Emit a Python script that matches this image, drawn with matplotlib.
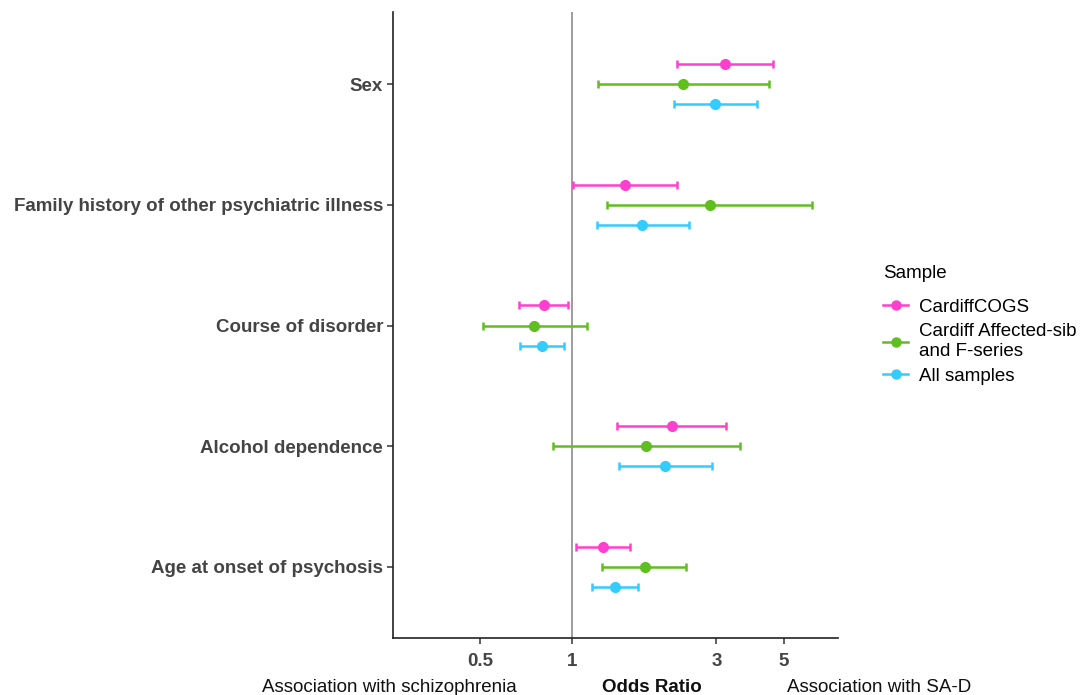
import numpy as np
import matplotlib
matplotlib.use("Agg")
import matplotlib.pyplot as plt
from matplotlib.lines import Line2D
from matplotlib.ticker import FixedLocator, NullLocator

plt.rcParams["font.family"] = ["Liberation Sans", "DejaVu Sans"]

# categories, bottom to top
categories = ["Age at onset of psychosis", "Alcohol dependence", "Course of disorder",
              "Family history of other psychiatric illness", "Sex"]
samples = ["CardiffCOGS", "Cardiff Affected-sib\nand F-series", "All samples"]
colors = ["#ff40cf", "#5fbf1f", "#33ccff"]

# odds ratio, lower CI, upper CI per sample (same category order)
or_cogs = [1.27, 2.14, 0.81, 1.50, 3.21]
lo_cogs = [1.03, 1.41, 0.67, 1.01, 2.23]
hi_cogs = [1.56, 3.22, 0.975, 2.23, 4.62]

or_sib = [1.74, 1.76, 0.75, 2.85, 2.33]
lo_sib = [1.26, 0.87, 0.51, 1.31, 1.22]
hi_sib = [2.38, 3.58, 1.12, 6.18, 4.47]

or_all = [1.39, 2.03, 0.80, 1.71, 2.98]
lo_all = [1.17, 1.43, 0.675, 1.21, 2.17]
hi_all = [1.65, 2.90, 0.94, 2.43, 4.08]

series = [(or_cogs, lo_cogs, hi_cogs), (or_sib, lo_sib, hi_sib), (or_all, lo_all, hi_all)]
offsets = [0.167, 0.0, -0.167]

fig = plt.figure(figsize=(10.91, 6.95), dpi=100)
ax = fig.add_axes([0.360, 0.082, 0.408, 0.901])

ax.axvline(1, color="#8c8c8c", linewidth=1.2, zorder=1)

ypos = np.arange(1, len(categories) + 1)
for (o, lo, hi), off, col in zip(series, offsets, colors):
    o = np.array(o); lo = np.array(lo); hi = np.array(hi)
    ax.errorbar(o, ypos + off, xerr=[o - lo, hi - o], fmt="o", color=col,
                ecolor=col, elinewidth=1.8, capsize=2.8, capthick=1.8,
                markersize=7, zorder=3)

ax.set_xscale("log")
ax.set_xlim(0.257, 7.55)
ax.set_ylim(0.41, 5.6)
ax.xaxis.set_major_locator(FixedLocator([0.5, 1, 3, 5]))
ax.xaxis.set_minor_locator(NullLocator())
ax.set_xticklabels(["0.5", "1", "3", "5"], fontsize=13.5, fontweight="bold", color="#444444")
ax.set_yticks(ypos)
ax.set_yticklabels(categories, fontsize=13.5, fontweight="bold", color="#444444")

for s in ["top", "right"]:
    ax.spines[s].set_visible(False)
for s in ["left", "bottom"]:
    ax.spines[s].set_linewidth(1.2)
    ax.spines[s].set_color("#222222")
ax.tick_params(axis="both", length=4, width=1.1, color="#333333", pad=3)
ax.tick_params(axis="x", pad=7)

fig.text(389 / 1091, 1 - 687 / 695, "Association with schizophrenia", ha="center", va="center",
         fontsize=13.5, color="#111111")
fig.text(652 / 1091, 1 - 687 / 695, "Odds Ratio", ha="center", va="center",
         fontsize=13.5, fontweight="bold", color="#111111")
fig.text(879 / 1091, 1 - 687 / 695, "Association with SA-D", ha="center", va="center",
         fontsize=13.5, color="#111111")

handles = [Line2D([0], [0], color=c, marker="o", markersize=6.5, linewidth=1.8) for c in colors]
leg = fig.legend(handles, samples, title="Sample", loc="upper left",
                 bbox_to_anchor=(0.8094, 0.619), frameon=False, fontsize=13.5,
                 title_fontsize=13.5, handlelength=1.33, handletextpad=0.6,
                 labelspacing=0.42, alignment="left", borderaxespad=0, borderpad=0)
leg._legend_box.sep = 12

fig.savefig("out.png", dpi=100)
